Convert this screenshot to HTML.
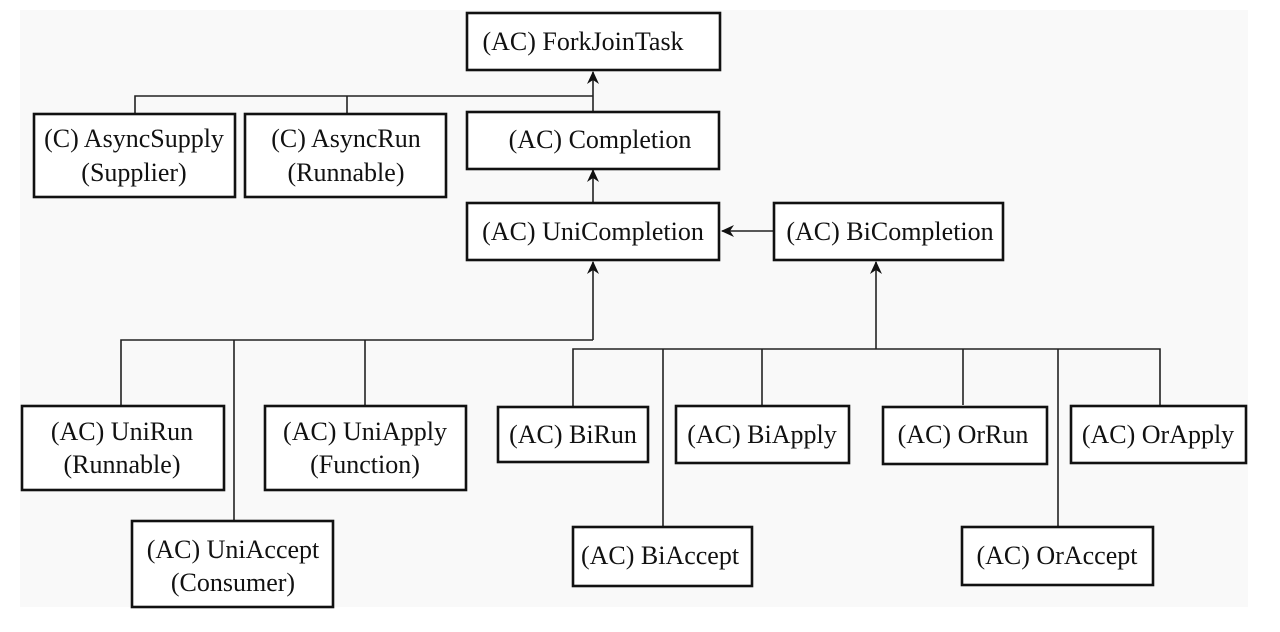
<!DOCTYPE html>
<html><head><meta charset="utf-8"><style>
html,body{margin:0;padding:0;background:#fff;}
svg{display:block}
text{font-family:"Liberation Serif","Times New Roman","Noto Serif CJK SC","DejaVu Serif",serif;font-size:26px;fill:#111;}
</style></head><body>
<svg width="1280" height="632" viewBox="0 0 1280 632" xmlns="http://www.w3.org/2000/svg">
<defs>
<marker id="a" markerWidth="14" markerHeight="12" refX="12" refY="6" orient="auto" markerUnits="userSpaceOnUse">
<path d="M0,0 L13,6 L0,12 L4,6 Z" fill="#111"/>
</marker>
</defs>
<rect x="20" y="10" width="1228" height="597" fill="#f9f9f9"/>
<g stroke="#222" stroke-width="1.6" fill="none">
<polyline points="135,114 135,96 593,96"/>
<line x1="347" y1="96" x2="347" y2="114"/>
<line x1="593" y1="112" x2="593" y2="72" marker-end="url(#a)"/>
<line x1="593" y1="203" x2="593" y2="170" marker-end="url(#a)"/>
<line x1="773" y1="231" x2="722" y2="231" marker-end="url(#a)"/>
<line x1="593" y1="340" x2="593" y2="262" marker-end="url(#a)"/>
<polyline points="121,405 121,340 593,340"/>
<line x1="234" y1="340" x2="234" y2="520"/>
<line x1="365" y1="340" x2="365" y2="405"/>
<line x1="876" y1="349" x2="876" y2="262" marker-end="url(#a)"/>
<polyline points="573,407 573,349 1160,349 1160,405"/>
<line x1="663" y1="349" x2="663" y2="527"/>
<line x1="762" y1="349" x2="762" y2="405"/>
<line x1="963" y1="349" x2="963" y2="405"/>
<line x1="1058" y1="349" x2="1058" y2="527"/>
</g>
<g stroke="#111" stroke-width="2.6" fill="#fff">
<rect x="467" y="13" width="253" height="57"/>
<rect x="34" y="114" width="201" height="83"/>
<rect x="245" y="114" width="201" height="83"/>
<rect x="467" y="112" width="252" height="57"/>
<rect x="467" y="203" width="252" height="57"/>
<rect x="774" y="203" width="229" height="57"/>
<rect x="22" y="406" width="202" height="84"/>
<rect x="265" y="406" width="201" height="84"/>
<rect x="132" y="521" width="201" height="86"/>
<rect x="498" y="407" width="150" height="55"/>
<rect x="676" y="406" width="173" height="57"/>
<rect x="883" y="407" width="164" height="57"/>
<rect x="1071" y="406" width="175" height="57"/>
<rect x="573" y="527" width="179" height="59"/>
<rect x="962" y="527" width="191" height="58"/>
</g>
<g text-anchor="middle">
<text x="583" y="50">(AC) ForkJoinTask</text>
<text x="134" y="147">(C) AsyncSupply</text>
<text x="134" y="181">(Supplier)</text>
<text x="346" y="147">(C) AsyncRun</text>
<text x="346" y="181">(Runnable)</text>
<text x="600" y="148">(AC) Completion</text>
<text x="593" y="240">(AC) UniCompletion</text>
<text x="890" y="240">(AC) BiCompletion</text>
<text x="122" y="440">(AC) UniRun</text>
<text x="122" y="473">(Runnable)</text>
<text x="365" y="440">(AC) UniApply</text>
<text x="365" y="473">(Function)</text>
<text x="233" y="558">(AC) UniAccept</text>
<text x="233" y="591">(Consumer)</text>
<text x="573" y="443">(AC) BiRun</text>
<text x="762" y="443">(AC) BiApply</text>
<text x="963" y="443">(AC) OrRun</text>
<text x="1158" y="443">(AC) OrApply</text>
<text x="660" y="564">(AC) BiAccept</text>
<text x="1057" y="564">(AC) OrAccept</text>
</g>
</svg>
</body></html>
